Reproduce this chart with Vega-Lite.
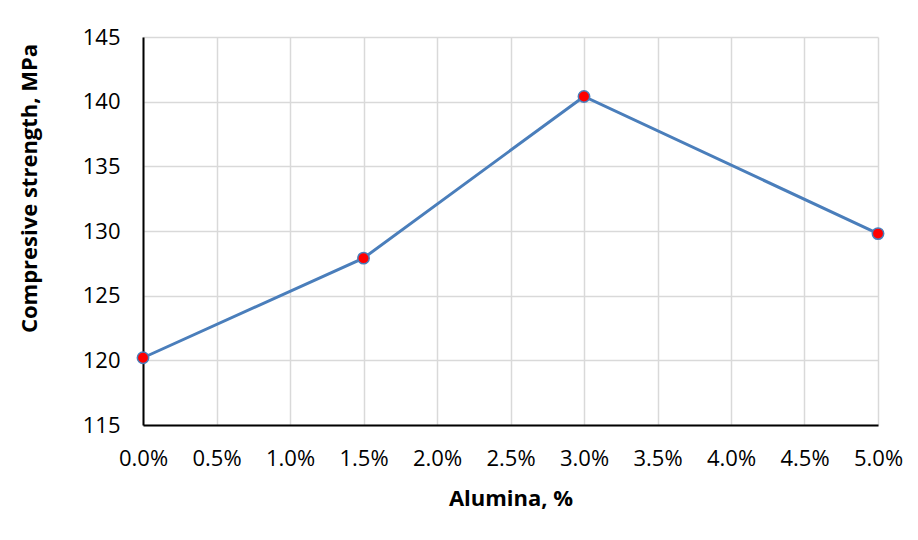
{
  "$schema": "https://vega.github.io/schema/vega-lite/v6.json",
  "autosize": {"type": "none"},
  "padding": {"left": 143, "top": 37, "right": 40, "bottom": 115},
  "width": 735,
  "height": 388,
  "background": "white",
  "config": {
    "view": {"stroke": null},
    "font": "Open Sans"
  },
  "data": {
    "values": [
      {"alumina": 0.0, "strength": 120.2},
      {"alumina": 0.015, "strength": 127.9},
      {"alumina": 0.03, "strength": 140.4},
      {"alumina": 0.05, "strength": 129.8}
    ]
  },
  "encoding": {
    "x": {
      "field": "alumina",
      "type": "quantitative",
      "scale": {"domain": [0, 0.05], "nice": false, "zero": false},
      "axis": {
        "title": "Alumina, %",
        "format": ".1%",
        "values": [0, 0.005, 0.01, 0.015, 0.02, 0.025, 0.03, 0.035, 0.04, 0.045, 0.05],
        "grid": true,
        "gridColor": "#d9d9d9",
        "gridWidth": 1.5,
        "domainColor": "black",
        "domainWidth": 2,
        "ticks": false,
        "labelFlush": false,
        "labelPadding": 23,
        "labelFontSize": 22,
        "labelColor": "black",
        "labelFont": "Open Sans",
        "titleFont": "Open Sans",
        "titleFontSize": 22,
        "titleFontWeight": "bold",
        "titleColor": "black",
        "titlePadding": 19
      }
    },
    "y": {
      "field": "strength",
      "type": "quantitative",
      "scale": {"domain": [115, 145], "nice": false, "zero": false},
      "axis": {
        "title": "Compresive strength, MPa",
        "values": [115, 120, 125, 130, 135, 140, 145],
        "grid": true,
        "gridColor": "#d9d9d9",
        "gridWidth": 1.5,
        "domainColor": "black",
        "domainWidth": 2,
        "ticks": false,
        "labelFlush": false,
        "labelPadding": 23,
        "labelFontSize": 22,
        "labelColor": "black",
        "labelFont": "Open Sans",
        "titleFont": "Open Sans",
        "titleFontSize": 22,
        "titleFontWeight": "bold",
        "titleColor": "black",
        "titlePadding": 41,
        "titleY": 151
      }
    }
  },
  "layer": [
    {
      "mark": {"type": "line", "color": "#4a7ebb", "strokeWidth": 3},
      "encoding": {}
    },
    {
      "mark": {"type": "point", "filled": true, "fill": "#ff0000", "stroke": "#4a7ebb", "strokeWidth": 1.5, "size": 130, "opacity": 1},
      "encoding": {}
    }
  ]
}
